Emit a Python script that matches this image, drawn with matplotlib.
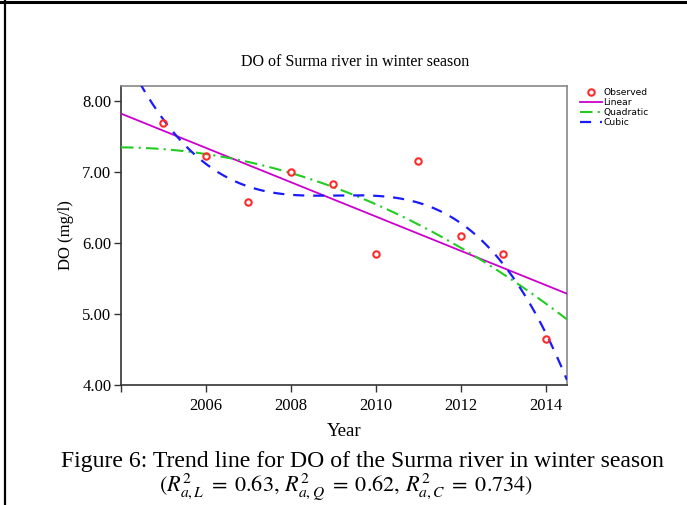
import numpy as np
import matplotlib
matplotlib.use("Agg")
import matplotlib.pyplot as plt
from matplotlib.lines import Line2D

years = [2005, 2006, 2007, 2008, 2009, 2010, 2011, 2012, 2013, 2014]
do_obs = [7.69, 7.22, 6.58, 7.00, 6.83, 5.85, 7.16, 6.10, 5.85, 4.65]
yticks = [4.0, 5.0, 6.0, 7.0, 8.0]
xticks = [2004, 2006, 2008, 2010, 2012, 2014]
xticklabels = ["", "2006", "2008", "2010", "2012", "2014"]

plt.rcParams["mathtext.fontset"] = "stix"
serif = "Liberation Serif"

fig = plt.figure(figsize=(6.87, 5.05), dpi=100)
ax = fig.add_axes([121/687, 1-385/505, (567-121)/687, (385-86)/505])

x = np.array(years, dtype=float)
y = np.array(do_obs)
t0 = 2009.5
xs = np.linspace(2004, 2014.5, 400)
lin = np.polyval(np.polyfit(x - t0, y, 1), xs - t0)
quad = np.polyval(np.polyfit(x - t0, y, 2), xs - t0)
cub = np.polyval(np.polyfit(x - t0, y, 3), xs - t0)

ax.plot(xs, lin, color="#cc00cc", lw=1.3, label="Linear", zorder=3)
ax.plot(xs, quad, color="#22cc22", lw=1.5, ls=(0, (6, 2.5, 1, 2.5)), label="Quadratic", zorder=3)
ax.plot(xs, cub, color="#1a1aff", lw=1.6, ls=(0, (5, 4)), label="Cubic", zorder=3)
ax.plot(years, do_obs, ls="none", marker="o", ms=4.6, mfc="none", mec="#ff2a2a", mew=1.5,
        label="Observed", zorder=4)

ax.set_xlim(2004, 2014.5)
ax.set_ylim(4.0, 8.21)
ax.set_yticks(yticks)
ax.set_yticklabels([f"{v:.2f}" for v in yticks], fontfamily=serif, fontsize=12)
ax.set_xticks(xticks)
ax.set_xticklabels(xticklabels, fontfamily=serif, fontsize=12)
ax.tick_params(axis="y", direction="out", length=5, width=1, color="#333333", pad=2)
ax.tick_params(axis="x", direction="out", length=5, width=1, color="#333333", pad=4)
for s in ["left", "bottom"]:
    ax.spines[s].set_color("#333333")
    ax.spines[s].set_linewidth(1.2)
for s in ["top", "right"]:
    ax.spines[s].set_color("#888888")
    ax.spines[s].set_linewidth(1.2)

ax.set_xlabel("Year", fontfamily=serif, fontsize=13.5, labelpad=7)
ax.set_ylabel("DO (mg/l)", fontfamily=serif, fontsize=12, labelpad=6)

fig.text(355/687, 1-62/505, "DO of Surma river in winter season", fontfamily=serif,
         fontsize=11.5, ha="center", va="center")

handles, labels = ax.get_legend_handles_labels()
order = [3, 0, 1, 2]
fig.legend([handles[i] for i in order], [labels[i] for i in order],
           loc="upper left", bbox_to_anchor=(578/687, 1-86/505), frameon=False,
           prop={"family": "DejaVu Sans", "size": 6.6}, handlelength=2.4, handletextpad=0.15,
           labelspacing=0.12, borderaxespad=0, borderpad=0.2)

fig.text(362/687, 1-462/505, "Figure 6: Trend line for DO of the Surma river in winter season",
         fontfamily=serif, fontsize=17.1, ha="center", va="center")
fig.text(346/687, 2/505,
         r"$(R^2_{a,L}\;=\;0.63,\,R^2_{a,Q}\;=\;0.62,\,R^2_{a,C}\;=\;0.734)$",
         fontsize=16, ha="center", va="bottom")

fig.add_artist(Line2D([0, 1], [1-1.5/505, 1-1.5/505], transform=fig.transFigure,
                      color="black", lw=2.2))
fig.add_artist(Line2D([4.5/687, 4.5/687], [0, 1], transform=fig.transFigure,
                      color="black", lw=1.6))

fig.savefig("out.png", dpi=100)
